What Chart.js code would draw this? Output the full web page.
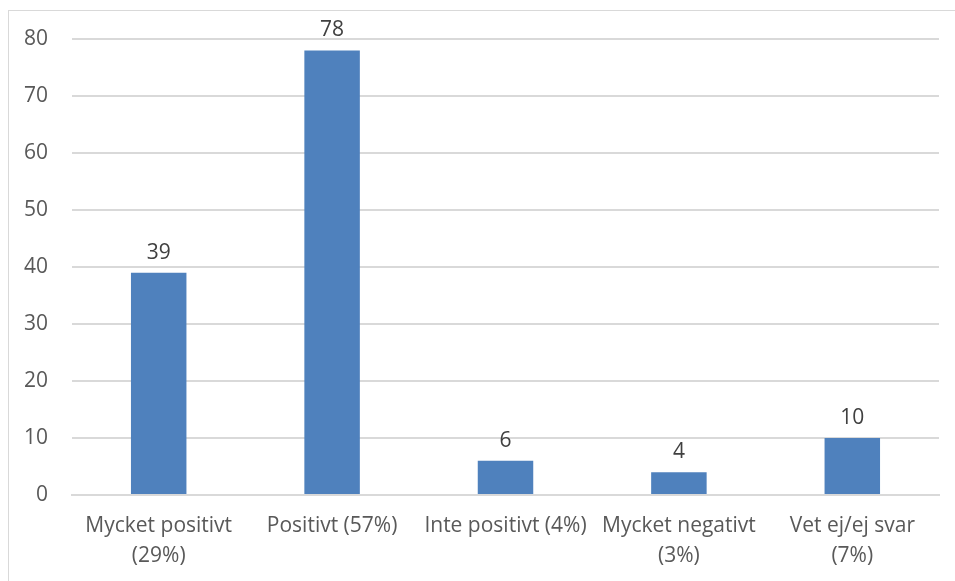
<!DOCTYPE html>
<html>
<head>
<meta charset="utf-8">
<script src="https://cdn.jsdelivr.net/npm/chart.js@4"></script>
<style>
	html, body { margin: 0; padding: 0; background: #fff; }
	#wrap { position: relative; width: 955px; height: 581px; overflow: hidden; }
	#frame { position: absolute; left: 8px; top: 10px; width: 1000px; height: 700px; border: 1px solid #d9d9d9; box-sizing: border-box; }
	#chart { position: absolute; left: 0; top: 0; }
</style>
</head>
<body>
<div id="wrap">
	<div id="frame"></div>
	<canvas id="chart" width="955" height="581"></canvas>
</div>
<script>
	"use strict";

	// Kategorier och värden
	const categories = [
		['Mycket positivt', '(29%)'],
		'Positivt (57%)',
		'Inte positivt (4%)',
		['Mycket negativt', '(3%)'],
		['Vet ej/ej svar', '(7%)']
	];
	const counts = [39, 78, 6, 4, 10];
	const yTicks = [0, 10, 20, 30, 40, 50, 60, 70, 80];

	// etiketter ovanför staplarna
	const barLabels = {
		id: 'barLabels',
		afterDatasetsDraw: function (chart) {
			const ctx = chart.ctx;
			const meta = chart.getDatasetMeta(0);
			ctx.save();
			ctx.font = '21px "Open Sans"';
			ctx.fillStyle = '#404040';
			ctx.textAlign = 'center';
			ctx.textBaseline = 'alphabetic';
			meta.data.forEach(function (bar, i) {
				ctx.fillText(String(counts[i]), bar.x, bar.y - 14);
			});
			ctx.restore();
		}
	};

	const config = {
		type: 'bar',
		data: {
			labels: categories,
			datasets: [{
				data: counts,
				backgroundColor: '#4f81bd',
				borderWidth: 0,
				barPercentage: 0.32,
				categoryPercentage: 1
			}]
		},
		options: {
			responsive: false,
			animation: false,
			layout: {
				padding: { top: 39, left: 0, right: 16, bottom: 0 }
			},
			plugins: {
				legend: { display: false },
				tooltip: { enabled: false }
			},
			scales: {
				x: {
					grid: { display: false, drawTicks: false },
					border: { color: '#d9d9d9', width: 2 },
					ticks: {
						color: '#595959',
						font: { family: 'Open Sans', size: 21, lineHeight: 1.43 },
						padding: 16,
						maxRotation: 0,
						autoSkip: false
					},
					afterFit: function (scale) { scale.height = 86; }
				},
				y: {
					min: 0,
					max: 80,
					afterBuildTicks: function (scale) {
						scale.ticks = yTicks.map(v => ({ value: v }));
					},
					grid: { color: '#d9d9d9', lineWidth: 2, drawTicks: false },
					border: { display: false },
					ticks: {
						color: '#595959',
						font: { family: 'Open Sans', size: 21 },
						padding: 24
					},
					afterFit: function (scale) { scale.width = 72; }
				}
			}
		},
		plugins: [barLabels]
	};

	const myChart = new Chart(document.getElementById('chart'), config);
</script>
</body>
</html>
